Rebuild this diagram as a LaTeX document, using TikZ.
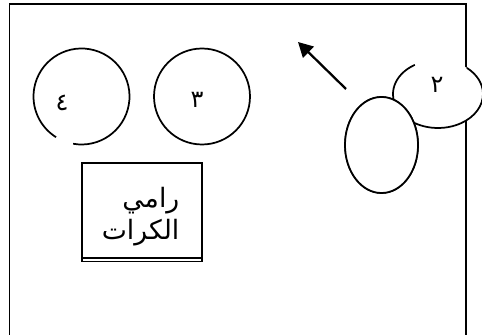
\documentclass[tikz,border=0pt]{standalone}
\usepackage{fontspec}
\newfontfamily\arabicfont[Script=Arabic]{DejaVu Sans}
\TeXXeTstate=1
\usetikzlibrary{arrows.meta,shapes.geometric}

\begin{document}
\begin{tikzpicture}[x=0.75pt,y=0.75pt]
\useasboundingbox (0,0) rectangle (482,335);

% the court
\draw[line width=1.3pt] (9.5,-5) -- (9.5,331) -- (466,331) -- (466,-5);

\begin{scope}[every node/.style={inner sep=0pt,outer sep=0pt}]
    \node[circle, minimum size=72pt] (four) at (81.5,238.5) {};
    \node[circle, draw, line width=1.3pt, minimum size=72pt] (three) at (202,238.5) {};
	\node[ellipse, fill=white, minimum width=67.5pt, minimum height=51pt] (two) at (438,241) {};
	\node[ellipse, draw, fill=white, line width=1.3pt, minimum width=54.75pt, minimum height=72pt] (player) at (381.5,190) {};
	\node[draw, line width=1.2pt, minimum width=90pt, minimum height=71.25pt] (thrower) at (142,124.5) {};
\end{scope}

\begin{scope}[line width=1.3pt]
    \draw ([shift={(260:48)}]four.center) arc[start angle=260, end angle=598, radius=48];
    \draw ([shift={(121:45 and 34)}]two.center) arc[start angle=121, end angle=410, x radius=45, y radius=34];
    % the ellipse in front hides part of this one
    \node[ellipse, draw, fill=white, minimum width=54.75pt, minimum height=72pt, inner sep=0pt] at (player) {};
\end{scope}

% double line under the box
\draw[line width=0.9pt] (thrower.south west) rectangle ([yshift=-2.8pt]thrower.south east);

\begin{scope}[every node/.style={font=\arabicfont\fontsize{18}{20}\selectfont}]
    \node (num4) at (62,232) {\beginR ٤\endR};
    \node (num3) at (197,235) {\beginR ٣\endR};
    \node (num2) at (437,250) {\beginR ٢\endR};
    \node[anchor=east, align=right, font=\arabicfont\fontsize{20}{24}\selectfont] (name) at (184,118)
        {\beginR رامي\endR\\\beginR الكرات\endR};
\end{scope}

\coordinate (arrowtail) at (346,246);
\coordinate (arrowtip) at (298,293);
\draw[line width=1.7pt, -{Triangle[length=11pt,width=11.5pt]}] (arrowtail) -- (arrowtip);

\end{tikzpicture}
\end{document}
